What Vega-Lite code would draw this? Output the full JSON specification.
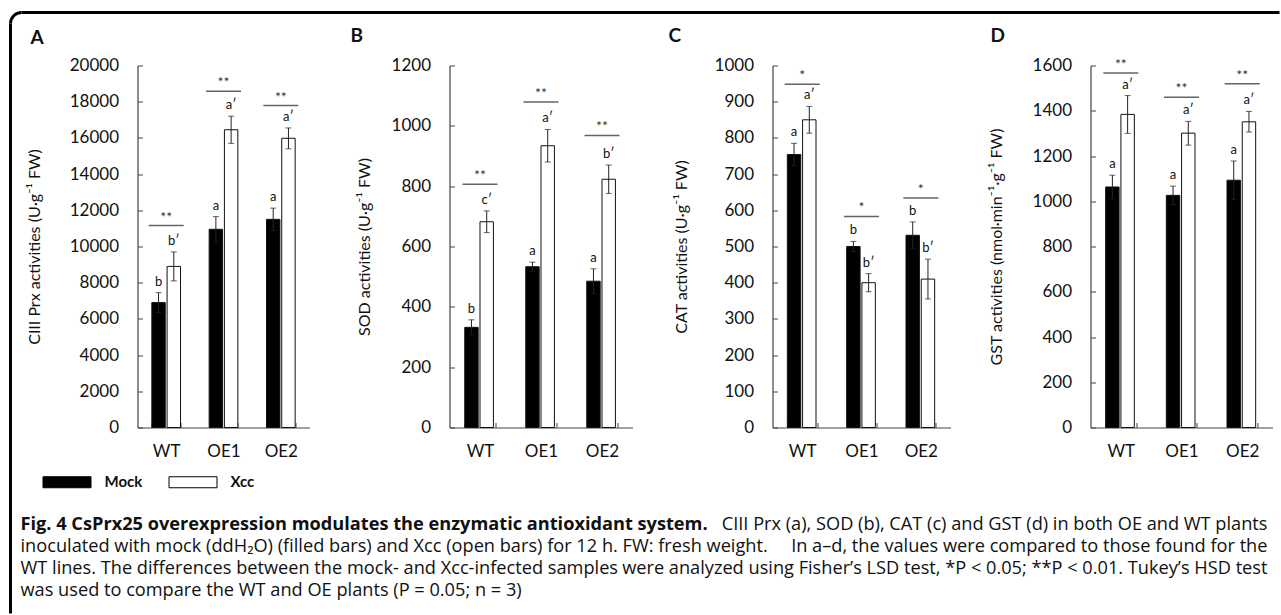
{
  "$schema": "https://vega.github.io/schema/vega-lite/v6.json",
  "padding": {"left": 8.5, "top": 10.5, "right": 0, "bottom": 0},
  "background": "white",
  "config": {
    "font": "Lato",
    "view": {"stroke": null},
    "axis": {"domain": true, "ticks": true, "labelOverlap": false, "labelFont": "Lato", "labelFontSize": 17, "labelColor": "#111", "titleFont": "Lato", "titleFontSize": 16, "titleFontWeight": "normal", "titleColor": "#111", "domainColor": "#444", "domainWidth": 1.2, "tickColor": "#444", "grid": false},
    "axisY": {"tickSize": -5, "labelPadding": 24, "labelOverlap": false, "tickCount": 20},
    "axisX": {"tickSize": -5, "labelPadding": 21, "tickBand": "extent", "labelAngle": 0, "title": null}
  },
  "datasets": {
    "bars": [
      {"panel": "A", "group": "WT", "trt": "Mock", "mean": 6900, "lo": 6350, "hi": 7450, "lab": "b"},
      {"panel": "A", "group": "WT", "trt": "Xcc", "mean": 8900, "lo": 8100, "hi": 9700, "lab": "b′"},
      {"panel": "A", "group": "OE1", "trt": "Mock", "mean": 10950, "lo": 10250, "hi": 11650, "lab": "a"},
      {"panel": "A", "group": "OE1", "trt": "Xcc", "mean": 16450, "lo": 15700, "hi": 17200, "lab": "a′"},
      {"panel": "A", "group": "OE2", "trt": "Mock", "mean": 11500, "lo": 10880, "hi": 12120, "lab": "a"},
      {"panel": "A", "group": "OE2", "trt": "Xcc", "mean": 15980, "lo": 15400, "hi": 16550, "lab": "a′"},
      {"panel": "B", "group": "WT", "trt": "Mock", "mean": 332, "lo": 307, "hi": 357, "lab": "b"},
      {"panel": "B", "group": "WT", "trt": "Xcc", "mean": 682, "lo": 646, "hi": 718, "lab": "c′"},
      {"panel": "B", "group": "OE1", "trt": "Mock", "mean": 533, "lo": 518, "hi": 548, "lab": "a"},
      {"panel": "B", "group": "OE1", "trt": "Xcc", "mean": 934, "lo": 880, "hi": 988, "lab": "a′"},
      {"panel": "B", "group": "OE2", "trt": "Mock", "mean": 485, "lo": 444, "hi": 526, "lab": "a"},
      {"panel": "B", "group": "OE2", "trt": "Xcc", "mean": 823, "lo": 776, "hi": 870, "lab": "b′"},
      {"panel": "C", "group": "WT", "trt": "Mock", "mean": 754, "lo": 723, "hi": 785, "lab": "a"},
      {"panel": "C", "group": "WT", "trt": "Xcc", "mean": 850, "lo": 813, "hi": 887, "lab": "a′"},
      {"panel": "C", "group": "OE1", "trt": "Mock", "mean": 500, "lo": 486, "hi": 514, "lab": "b"},
      {"panel": "C", "group": "OE1", "trt": "Xcc", "mean": 400, "lo": 375, "hi": 425, "lab": "b′"},
      {"panel": "C", "group": "OE2", "trt": "Mock", "mean": 531, "lo": 494, "hi": 568, "lab": "b"},
      {"panel": "C", "group": "OE2", "trt": "Xcc", "mean": 410, "lo": 355, "hi": 465, "lab": "b′"},
      {"panel": "D", "group": "WT", "trt": "Mock", "mean": 1063, "lo": 1011, "hi": 1115, "lab": "a"},
      {"panel": "D", "group": "WT", "trt": "Xcc", "mean": 1384, "lo": 1300, "hi": 1467, "lab": "a′"},
      {"panel": "D", "group": "OE1", "trt": "Mock", "mean": 1026, "lo": 985, "hi": 1067, "lab": "a"},
      {"panel": "D", "group": "OE1", "trt": "Xcc", "mean": 1301, "lo": 1248, "hi": 1353, "lab": "a′"},
      {"panel": "D", "group": "OE2", "trt": "Mock", "mean": 1093, "lo": 1008, "hi": 1178, "lab": "a"},
      {"panel": "D", "group": "OE2", "trt": "Xcc", "mean": 1351, "lo": 1306, "hi": 1397, "lab": "a′"}
    ],
    "sig": [
      {"panel": "A", "group": "WT", "y": 11160, "star": "**"},
      {"panel": "A", "group": "OE1", "y": 18580, "star": "**"},
      {"panel": "A", "group": "OE2", "y": 17790, "star": "**"},
      {"panel": "B", "group": "WT", "y": 806, "star": "**"},
      {"panel": "B", "group": "OE1", "y": 1079, "star": "**"},
      {"panel": "B", "group": "OE2", "y": 968, "star": "**"},
      {"panel": "C", "group": "WT", "y": 948, "star": "*"},
      {"panel": "C", "group": "OE1", "y": 583, "star": "*"},
      {"panel": "C", "group": "OE2", "y": 634, "star": "*"},
      {"panel": "D", "group": "WT", "y": 1567, "star": "**"},
      {"panel": "D", "group": "OE1", "y": 1460, "star": "**"},
      {"panel": "D", "group": "OE2", "y": 1519, "star": "**"}
    ],
    "cap": [
      {"line": 1, "left": "Fig. 4 CsPrx25 overexpression modulates the enzymatic antioxidant system.", "right": "CIII Prx (a), SOD (b), CAT (c) and GST (d) in both OE and WT plants"},
      {"line": 2, "left": "inoculated with mock (ddH₂O) (filled bars) and Xcc (open bars) for 12 h. FW: fresh weight.", "right": "In a–d, the values were compared to those found for the"},
      {"line": 3, "left": "WT lines. The differences between the mock- and Xcc-infected samples", "right": "were analyzed using Fisher’s LSD test, *P < 0.05; **P < 0.01. Tukey’s HSD test"},
      {"line": 4, "left": "was used to compare the WT and OE plants (P = 0.05; n = 3)", "right": ""}
    ]
  },
  "bounds": "flush",
  "spacing": 140,
  "hconcat": [
    {
      "width": 172, "height": 362,
      "title": {"text": "A", "anchor": "start", "frame": "group", "dx": -107, "dy": 48, "fontSize": 19, "fontWeight": "bold", "font": "Lato", "offset": 11, "color": "#111"},
      "resolve": {"scale": {"y": "independent"}, "axis": {"y": "independent"}},
      "layer": [
        {
          "data": {"name": "bars"},
          "transform": [{"filter": "datum.panel == 'A'"}],
          "encoding": {"x": {"field": "group", "type": "nominal", "sort": ["WT", "OE1", "OE2"], "scale": {"paddingInner": 0.5, "paddingOuter": 0.25}, "axis": {"title": null}}},
          "layer": [
            {"mark": {"type": "bar", "stroke": "#111", "strokeWidth": 1},
             "encoding": {
               "xOffset": {"field": "trt", "type": "nominal", "sort": ["Mock", "Xcc"], "scale": {"paddingInner": 0.12}},
               "y": {"field": "mean", "type": "quantitative", "scale": {"domain": [0, 20000]}, "axis": {"title": "CIII Prx activities (U·g⁻¹ FW)", "values": [0, 2000, 4000, 6000, 8000, 10000, 12000, 14000, 16000, 18000, 20000], "tickCount": 20, "format": "d", "titlePadding": 27, "labelOverlap": false}},
               "fill": {"field": "trt", "type": "nominal", "scale": {"domain": ["Mock", "Xcc"], "range": ["#000000", "#ffffff"]},
                        "legend": {"title": null, "orient": "none", "legendX": -81, "legendY": 406, "direction": "horizontal", "symbolType": "M-2.4,-0.55H2.4V0.55H-2.4Z", "symbolSize": 400, "symbolStrokeColor": "#000", "symbolStrokeWidth": 1, "labelFont": "Lato", "labelFontSize": 15, "labelFontWeight": "bold", "labelOffset": 27, "columnPadding": 24, "labelColor": "#111"}}
             }},
            {"mark": {"type": "rule", "color": "#222", "strokeWidth": 1},
             "encoding": {"xOffset": {"field": "trt", "type": "nominal", "sort": ["Mock", "Xcc"], "scale": {"paddingInner": 0.12}}, "y": {"field": "lo", "type": "quantitative", "scale": {"domain": [0, 20000]}}, "y2": {"field": "hi"}}},
            {"mark": {"type": "tick", "color": "#222", "size": 6, "thickness": 1},
             "encoding": {"xOffset": {"field": "trt", "type": "nominal", "sort": ["Mock", "Xcc"], "scale": {"paddingInner": 0.12}}, "y": {"field": "hi", "type": "quantitative", "scale": {"domain": [0, 20000]}}}},
            {"mark": {"type": "tick", "color": "#222", "size": 6, "thickness": 1},
             "encoding": {"xOffset": {"field": "trt", "type": "nominal", "sort": ["Mock", "Xcc"], "scale": {"paddingInner": 0.12}}, "y": {"field": "lo", "type": "quantitative", "scale": {"domain": [0, 20000]}}}},
            {"mark": {"type": "text", "font": "Lato", "fontSize": 13, "baseline": "alphabetic", "dy": -7, "color": "#111"},
             "encoding": {"xOffset": {"field": "trt", "type": "nominal", "sort": ["Mock", "Xcc"], "scale": {"paddingInner": 0.12}}, "y": {"field": "hi", "type": "quantitative", "scale": {"domain": [0, 20000]}}, "text": {"field": "lab"}}},
            {"data": {"name": "sig"}, "transform": [{"filter": "datum.panel == 'A'"}],
             "mark": {"type": "tick", "color": "#222", "size": 35, "thickness": 1.5},
             "encoding": {"y": {"field": "y", "type": "quantitative", "scale": {"domain": [0, 20000]}}}},
            {"data": {"name": "sig"}, "transform": [{"filter": "datum.panel == 'A'"}],
             "mark": {"type": "text", "font": "Lato", "fontSize": 14, "baseline": "alphabetic", "dy": -4, "color": "#333"},
             "encoding": {"y": {"field": "y", "type": "quantitative", "scale": {"domain": [0, 20000]}}, "text": {"field": "star"}}}
          ]
        },
        {
          "data": {"name": "cap"},
          "encoding": {"y": {"field": "line", "type": "ordinal", "scale": {"type": "point", "padding": 0.5, "range": [448, 536]}, "axis": null}},
          "layer": [
            {"transform": [{"filter": "datum.line == 1"}],
             "mark": {"type": "text", "align": "left", "baseline": "middle", "font": "Open Sans", "fontSize": 18.2, "fontWeight": "bold", "color": "#111"},
             "encoding": {"x": {"value": -117}, "text": {"field": "left"}}},
            {"transform": [{"filter": "datum.line > 1"}],
             "mark": {"type": "text", "align": "left", "baseline": "middle", "font": "Open Sans", "fontSize": 18.2, "color": "#111"},
             "encoding": {"x": {"value": -117}, "text": {"field": "left"}}},
            {"transform": [{"filter": "datum.right != ''"}],
             "mark": {"type": "text", "align": "right", "baseline": "middle", "font": "Open Sans", "fontSize": 18.2, "color": "#111"},
             "encoding": {"x": {"value": 1130}, "text": {"field": "right"}}},
            {"transform": [{"filter": "datum.line == 1"}],
             "mark": {"type": "rule", "color": "#000", "strokeWidth": 3},
             "encoding": {"x": {"value": -116}, "x2": {"value": 1142}, "y": {"value": -53}}},
            {"transform": [{"filter": "datum.line == 1"}],
             "mark": {"type": "rule", "color": "#000", "strokeWidth": 3},
             "encoding": {"x": {"value": -127}, "y": {"value": -42}, "y2": {"value": 548}}},
            {"transform": [{"filter": "datum.line == 1"}],
             "mark": {"type": "arc", "color": "#000", "innerRadius": 9.5, "outerRadius": 12.5, "theta": -1.5708, "theta2": 0},
             "encoding": {"x": {"value": -116}, "y": {"value": -42}}}
          ]
        }
      ]
    },
    {
      "width": 183, "height": 362,
      "title": {"text": "B", "anchor": "start", "frame": "group", "dx": -99, "fontSize": 19, "fontWeight": "bold", "font": "Lato", "offset": 11, "color": "#111"},
      "data": {"name": "bars"},
      "transform": [{"filter": "datum.panel == 'B'"}],
      "encoding": {"x": {"field": "group", "type": "nominal", "sort": ["WT", "OE1", "OE2"], "scale": {"paddingInner": 0.5, "paddingOuter": 0.25}, "axis": {"title": null}}},
      "layer": [
        {"mark": {"type": "bar", "stroke": "#111", "strokeWidth": 1},
         "encoding": {
           "xOffset": {"field": "trt", "type": "nominal", "sort": ["Mock", "Xcc"], "scale": {"paddingInner": 0.12}},
           "y": {"field": "mean", "type": "quantitative", "scale": {"domain": [0, 1200]}, "axis": {"title": "SOD activities (U·g⁻¹ FW)", "values": [0, 200, 400, 600, 800, 1000, 1200], "tickCount": 20, "format": "d", "titlePadding": 19, "labelOverlap": false}},
           "fill": {"field": "trt", "type": "nominal", "scale": {"domain": ["Mock", "Xcc"], "range": ["#000000", "#ffffff"]},
                    "legend": {"title": null, "orient": "none", "legendX": -81, "legendY": 406, "direction": "horizontal", "symbolType": "M-2.4,-0.55H2.4V0.55H-2.4Z", "symbolSize": 400, "symbolStrokeColor": "#000", "symbolStrokeWidth": 1, "labelFont": "Lato", "labelFontSize": 15, "labelFontWeight": "bold", "labelOffset": 27, "columnPadding": 24, "labelColor": "#111"}}
         }},
        {"mark": {"type": "rule", "color": "#222", "strokeWidth": 1},
         "encoding": {"xOffset": {"field": "trt", "type": "nominal", "sort": ["Mock", "Xcc"], "scale": {"paddingInner": 0.12}}, "y": {"field": "lo", "type": "quantitative", "scale": {"domain": [0, 1200]}}, "y2": {"field": "hi"}}},
        {"mark": {"type": "tick", "color": "#222", "size": 6, "thickness": 1},
         "encoding": {"xOffset": {"field": "trt", "type": "nominal", "sort": ["Mock", "Xcc"], "scale": {"paddingInner": 0.12}}, "y": {"field": "hi", "type": "quantitative", "scale": {"domain": [0, 1200]}}}},
        {"mark": {"type": "tick", "color": "#222", "size": 6, "thickness": 1},
         "encoding": {"xOffset": {"field": "trt", "type": "nominal", "sort": ["Mock", "Xcc"], "scale": {"paddingInner": 0.12}}, "y": {"field": "lo", "type": "quantitative", "scale": {"domain": [0, 1200]}}}},
        {"mark": {"type": "text", "font": "Lato", "fontSize": 13, "baseline": "alphabetic", "dy": -7, "color": "#111"},
         "encoding": {"xOffset": {"field": "trt", "type": "nominal", "sort": ["Mock", "Xcc"], "scale": {"paddingInner": 0.12}}, "y": {"field": "hi", "type": "quantitative", "scale": {"domain": [0, 1200]}}, "text": {"field": "lab"}}},
        {"data": {"name": "sig"}, "transform": [{"filter": "datum.panel == 'B'"}],
         "mark": {"type": "tick", "color": "#222", "size": 35, "thickness": 1.5},
         "encoding": {"y": {"field": "y", "type": "quantitative", "scale": {"domain": [0, 1200]}}}},
        {"data": {"name": "sig"}, "transform": [{"filter": "datum.panel == 'B'"}],
         "mark": {"type": "text", "font": "Lato", "fontSize": 14, "baseline": "alphabetic", "dy": -4, "color": "#333"},
         "encoding": {"y": {"field": "y", "type": "quantitative", "scale": {"domain": [0, 1200]}}, "text": {"field": "star"}}}
      ]
    },
    {
      "width": 178, "height": 362,
      "title": {"text": "C", "anchor": "start", "frame": "group", "dx": -104, "fontSize": 19, "fontWeight": "bold", "font": "Lato", "offset": 11, "color": "#111"},
      "data": {"name": "bars"},
      "transform": [{"filter": "datum.panel == 'C'"}],
      "encoding": {"x": {"field": "group", "type": "nominal", "sort": ["WT", "OE1", "OE2"], "scale": {"paddingInner": 0.5, "paddingOuter": 0.25}, "axis": {"title": null}}},
      "layer": [
        {"mark": {"type": "bar", "stroke": "#111", "strokeWidth": 1},
         "encoding": {
           "xOffset": {"field": "trt", "type": "nominal", "sort": ["Mock", "Xcc"], "scale": {"paddingInner": 0.12}},
           "y": {"field": "mean", "type": "quantitative", "scale": {"domain": [0, 1000]}, "axis": {"title": "CAT activities (U·g⁻¹ FW)", "values": [0, 100, 200, 300, 400, 500, 600, 700, 800, 900, 1000], "tickCount": 20, "format": "d", "titlePadding": 25, "labelOverlap": false}},
           "fill": {"field": "trt", "type": "nominal", "scale": {"domain": ["Mock", "Xcc"], "range": ["#000000", "#ffffff"]},
                    "legend": {"title": null, "orient": "none", "legendX": -81, "legendY": 406, "direction": "horizontal", "symbolType": "M-2.4,-0.55H2.4V0.55H-2.4Z", "symbolSize": 400, "symbolStrokeColor": "#000", "symbolStrokeWidth": 1, "labelFont": "Lato", "labelFontSize": 15, "labelFontWeight": "bold", "labelOffset": 27, "columnPadding": 24, "labelColor": "#111"}}
         }},
        {"mark": {"type": "rule", "color": "#222", "strokeWidth": 1},
         "encoding": {"xOffset": {"field": "trt", "type": "nominal", "sort": ["Mock", "Xcc"], "scale": {"paddingInner": 0.12}}, "y": {"field": "lo", "type": "quantitative", "scale": {"domain": [0, 1000]}}, "y2": {"field": "hi"}}},
        {"mark": {"type": "tick", "color": "#222", "size": 6, "thickness": 1},
         "encoding": {"xOffset": {"field": "trt", "type": "nominal", "sort": ["Mock", "Xcc"], "scale": {"paddingInner": 0.12}}, "y": {"field": "hi", "type": "quantitative", "scale": {"domain": [0, 1000]}}}},
        {"mark": {"type": "tick", "color": "#222", "size": 6, "thickness": 1},
         "encoding": {"xOffset": {"field": "trt", "type": "nominal", "sort": ["Mock", "Xcc"], "scale": {"paddingInner": 0.12}}, "y": {"field": "lo", "type": "quantitative", "scale": {"domain": [0, 1000]}}}},
        {"mark": {"type": "text", "font": "Lato", "fontSize": 13, "baseline": "alphabetic", "dy": -7, "color": "#111"},
         "encoding": {"xOffset": {"field": "trt", "type": "nominal", "sort": ["Mock", "Xcc"], "scale": {"paddingInner": 0.12}}, "y": {"field": "hi", "type": "quantitative", "scale": {"domain": [0, 1000]}}, "text": {"field": "lab"}}},
        {"data": {"name": "sig"}, "transform": [{"filter": "datum.panel == 'C'"}],
         "mark": {"type": "tick", "color": "#222", "size": 35, "thickness": 1.5},
         "encoding": {"y": {"field": "y", "type": "quantitative", "scale": {"domain": [0, 1000]}}}},
        {"data": {"name": "sig"}, "transform": [{"filter": "datum.panel == 'C'"}],
         "mark": {"type": "text", "font": "Lato", "fontSize": 14, "baseline": "alphabetic", "dy": -4, "color": "#333"},
         "encoding": {"y": {"field": "y", "type": "quantitative", "scale": {"domain": [0, 1000]}}, "text": {"field": "star"}}}
      ]
    },
    {
      "width": 182, "height": 362,
      "title": {"text": "D", "anchor": "start", "frame": "group", "dx": -100, "fontSize": 19, "fontWeight": "bold", "font": "Lato", "offset": 11, "color": "#111"},
      "data": {"name": "bars"},
      "transform": [{"filter": "datum.panel == 'D'"}],
      "encoding": {"x": {"field": "group", "type": "nominal", "sort": ["WT", "OE1", "OE2"], "scale": {"paddingInner": 0.5, "paddingOuter": 0.25}, "axis": {"title": null}}},
      "layer": [
        {"mark": {"type": "bar", "stroke": "#111", "strokeWidth": 1},
         "encoding": {
           "xOffset": {"field": "trt", "type": "nominal", "sort": ["Mock", "Xcc"], "scale": {"paddingInner": 0.12}},
           "y": {"field": "mean", "type": "quantitative", "scale": {"domain": [0, 1600]}, "axis": {"title": "GST activities (nmol·min⁻¹·g⁻¹ FW)", "values": [0, 200, 400, 600, 800, 1000, 1200, 1400, 1600], "tickCount": 20, "format": "d", "titlePadding": 28, "labelOverlap": false}},
           "fill": {"field": "trt", "type": "nominal", "scale": {"domain": ["Mock", "Xcc"], "range": ["#000000", "#ffffff"]},
                    "legend": {"title": null, "orient": "none", "legendX": -81, "legendY": 406, "direction": "horizontal", "symbolType": "M-2.4,-0.55H2.4V0.55H-2.4Z", "symbolSize": 400, "symbolStrokeColor": "#000", "symbolStrokeWidth": 1, "labelFont": "Lato", "labelFontSize": 15, "labelFontWeight": "bold", "labelOffset": 27, "columnPadding": 24, "labelColor": "#111"}}
         }},
        {"mark": {"type": "rule", "color": "#222", "strokeWidth": 1},
         "encoding": {"xOffset": {"field": "trt", "type": "nominal", "sort": ["Mock", "Xcc"], "scale": {"paddingInner": 0.12}}, "y": {"field": "lo", "type": "quantitative", "scale": {"domain": [0, 1600]}}, "y2": {"field": "hi"}}},
        {"mark": {"type": "tick", "color": "#222", "size": 6, "thickness": 1},
         "encoding": {"xOffset": {"field": "trt", "type": "nominal", "sort": ["Mock", "Xcc"], "scale": {"paddingInner": 0.12}}, "y": {"field": "hi", "type": "quantitative", "scale": {"domain": [0, 1600]}}}},
        {"mark": {"type": "tick", "color": "#222", "size": 6, "thickness": 1},
         "encoding": {"xOffset": {"field": "trt", "type": "nominal", "sort": ["Mock", "Xcc"], "scale": {"paddingInner": 0.12}}, "y": {"field": "lo", "type": "quantitative", "scale": {"domain": [0, 1600]}}}},
        {"mark": {"type": "text", "font": "Lato", "fontSize": 13, "baseline": "alphabetic", "dy": -7, "color": "#111"},
         "encoding": {"xOffset": {"field": "trt", "type": "nominal", "sort": ["Mock", "Xcc"], "scale": {"paddingInner": 0.12}}, "y": {"field": "hi", "type": "quantitative", "scale": {"domain": [0, 1600]}}, "text": {"field": "lab"}}},
        {"data": {"name": "sig"}, "transform": [{"filter": "datum.panel == 'D'"}],
         "mark": {"type": "tick", "color": "#222", "size": 35, "thickness": 1.5},
         "encoding": {"y": {"field": "y", "type": "quantitative", "scale": {"domain": [0, 1600]}}}},
        {"data": {"name": "sig"}, "transform": [{"filter": "datum.panel == 'D'"}],
         "mark": {"type": "text", "font": "Lato", "fontSize": 14, "baseline": "alphabetic", "dy": -4, "color": "#333"},
         "encoding": {"y": {"field": "y", "type": "quantitative", "scale": {"domain": [0, 1600]}}, "text": {"field": "star"}}}
      ]
    }
  ]
}
